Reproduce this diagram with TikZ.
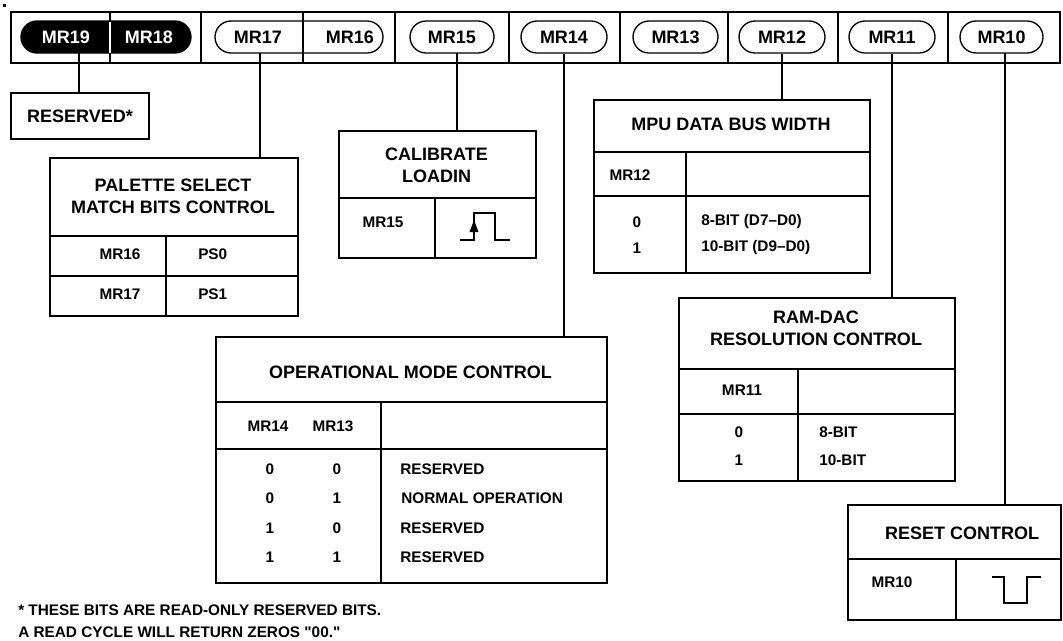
\documentclass[tikz,border=0pt]{standalone}
\usepackage{fontspec}
\setmainfont{Liberation Sans}[Ligatures=TeXOff]
\begin{document}
\begin{tikzpicture}[x=0.75pt,y=-0.75pt,
  hdr/.style={font=\bfseries\fontsize{13.5pt}{16.5pt}\selectfont, align=center, inner sep=0},
  cell/.style={font=\bfseries\fontsize{11.5pt}{14pt}\selectfont, inner sep=0},
  cellw/.style={cell, anchor=west},
  pilltxt/.style={font=\bfseries\fontsize{13.5pt}{16pt}\selectfont, inner sep=0},
  pill/.style={draw, line width=1pt, rounded corners=12pt, minimum height=24pt, inner sep=0},
  box/.style={draw, line width=1.6pt, inner sep=0, anchor=north west},
  rule/.style={line width=1.6pt},
  barline/.style={line width=1.4pt},
  conn/.style={line width=0.8pt}]
\useasboundingbox (0,0) rectangle (1063,640);
\fill (3,4) rectangle (6,7);

% register bar
\draw[barline] (11,12) rectangle (1060,63);

% pills
\node[pill, fill=black, minimum width=127.5pt] (p1918) at (106,37) {};
\node[pill, minimum width=126pt] (p1716) at (299,37) {};
\node[pill, minimum width=63pt] (p15) at (452,37) {};
\node[pill, minimum width=64.5pt] (p14) at (564,37) {};
\node[pill, minimum width=63.75pt] (p13) at (675.5,37) {};
\node[pill, minimum width=64.5pt] (p12) at (782,37) {};
\node[pill, minimum width=64.5pt] (p11) at (892,37) {};
\node[pill, minimum width=62.25pt] (p10) at (1001.5,37) {};

% cell dividers
\foreach \x in {201,303,395,509,620,728,838,948}
  \draw[barline] (\x,12) -- (\x,63);
\draw[barline] (110,12) -- (110,21);
\draw[barline] (110,53) -- (110,63);
\draw[line width=1.2pt, white] (110,21.5) -- (110,52.5);

% pill labels
\node[pilltxt, text=white] (t19) at (66,37) {MR19};
\node[pilltxt, text=white] (t18) at (149,37) {MR18};
\node[pilltxt] (t17) at (258,37) {MR17};
\node[pilltxt] (t16) at (350,37) {MR16};
\node[pilltxt] at (p15) {MR15};
\node[pilltxt] at (p14) {MR14};
\node[pilltxt] at (p13) {MR13};
\node[pilltxt] at (p12) {MR12};
\node[pilltxt] at (p11) {MR11};
\node[pilltxt] at (p10) {MR10};

% boxes
\node[box, minimum width=103.5pt, minimum height=34.5pt] (res) at (10,92) {};
\node[box, minimum width=186pt, minimum height=118.5pt] (pal) at (49,157) {};
\node[box, minimum width=147.75pt, minimum height=95.25pt] (cal) at (338,130) {};
\node[box, minimum width=207pt, minimum height=129.75pt] (mpu) at (593,99) {};
\node[box, minimum width=293.25pt, minimum height=184.5pt] (op) at (215,336) {};
\node[box, minimum width=207pt, minimum height=137.25pt] (ram) at (678,297) {};
\node[box, minimum width=159.75pt, minimum height=86.25pt] (rst) at (847,504) {};

% connectors
\coordinate (c19) at (79,53);
\coordinate (c17) at (260,53);
\coordinate (c15) at (457,53);
\coordinate (c10) at (1005,53);
\draw[conn] (c19) -- (c19 |- res.north);
\draw[conn] (c17) -- (c17 |- pal.north);
\draw[conn] (c15) -- (c15 |- cal.north);
\draw[conn] (p14.south) -- (p14.south |- op.north);
\draw[conn] (p12.south) -- (p12.south |- mpu.north);
\draw[conn] (p11.south) -- (p11.south |- ram.north);
\draw[conn] (c10) -- (c10 |- rst.north);

% RESERVED*
\node[hdr] at (res.center) {RESERVED*};

% Palette select
\draw[rule] (49,236) -- (297,236);
\draw[rule] (49,276) -- (297,276);
\draw[rule] (166,236) -- (166,315);
\node[hdr] at (173,196.5) {PALETTE SELECT\\MATCH BITS CONTROL};
\node[cell] at (120,254) {MR16};
\node[cellw] at (198,254) {PS0};
\node[cell] at (120,294) {MR17};
\node[cellw] at (198,294) {PS1};

% Calibrate loadin
\draw[rule] (338,198) -- (535,198);
\draw[rule] (435,198) -- (435,257);
\node[hdr] at (436.5,165) {CALIBRATE\\LOADIN};
\node[cell] at (383,222) {MR15};
\draw[line width=1.2pt] (460,240) -- (474,240) -- (474,213) -- (495,213) -- (495,240) -- (510,240);
\fill (474,220) -- (469.5,232) -- (478.5,232) -- cycle;

% MPU data bus width
\draw[rule] (593,152) -- (869,152);
\draw[rule] (593,196) -- (869,196);
\draw[rule] (686,152) -- (686,272);
\node[hdr] at (731,124) {MPU DATA BUS WIDTH};
\node[cell] at (630,175) {MR12};
\node[cell] at (637,222) {0};
\node[cell] at (637,248) {1};
\node[cellw] at (701,222) {8-BIT (D7–D0)};
\node[cellw] at (701,248) {10-BIT (D9–D0)};

% Operational mode control
\draw[rule] (215,402) -- (606,402);
\draw[rule] (215,449) -- (606,449);
\draw[rule] (381,402) -- (381,582);
\node[hdr] at (410.5,372) {OPERATIONAL MODE CONTROL};
\node[cell] at (268,426) {MR14};
\node[cell] at (333,426) {MR13};
\node[cell] at (270,469) {0};
\node[cell] at (337,469) {0};
\node[cellw] at (400,469) {RESERVED};
\node[cell] at (270,498) {0};
\node[cell] at (337,498) {1};
\node[cellw] at (401,498) {NORMAL OPERATION};
\node[cell] at (270,528) {1};
\node[cell] at (337,528) {0};
\node[cellw] at (400,528) {RESERVED};
\node[cell] at (270,557) {1};
\node[cell] at (337,557) {1};
\node[cellw] at (400,557) {RESERVED};

% RAM-DAC resolution control
\draw[rule] (678,369) -- (954,369);
\draw[rule] (678,414) -- (954,414);
\draw[rule] (798,369) -- (798,480);
\node[hdr] at (816,328) {RAM-DAC\\RESOLUTION CONTROL};
\node[cell] at (742,390) {MR11};
\node[cell] at (739,432) {0};
\node[cell] at (739,460) {1};
\node[cellw] at (819,432) {8-BIT};
\node[cellw] at (819,460) {10-BIT};

% Reset control
\draw[rule] (847,559) -- (1060,559);
\draw[rule] (956,559) -- (956,619);
\node[hdr] at (962,533) {RESET CONTROL};
\node[cell] at (892,582) {MR10};
\draw[line width=1.2pt] (992,577) -- (1004,577) -- (1004,603) -- (1027,603) -- (1027,577) -- (1041,577);

% footnote
\node[cellw] at (18,610) {* THESE BITS ARE READ-ONLY RESERVED BITS.};
\node[cellw] at (18,632) {A READ CYCLE WILL RETURN ZEROS "00."};
\end{tikzpicture}
\end{document}
